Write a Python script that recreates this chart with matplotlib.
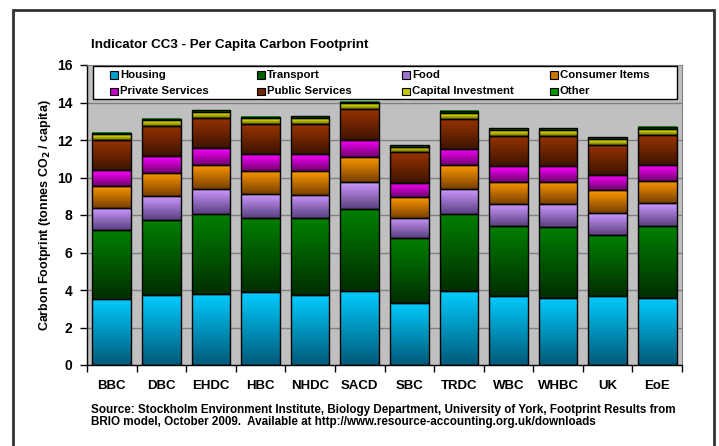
import numpy as np
import matplotlib
matplotlib.use("Agg")
import matplotlib.pyplot as plt
from matplotlib.colors import LinearSegmentedColormap
from matplotlib.patches import Rectangle

plt.rcParams['font.family'] = ['Liberation Sans', 'DejaVu Sans']
plt.rcParams['font.weight'] = 'bold'

categories = ['BBC', 'DBC', 'EHDC', 'HBC', 'NHDC', 'SACD', 'SBC', 'TRDC', 'WBC', 'WHBC', 'UK', 'EoE']
series_names = ['Housing', 'Transport', 'Food', 'Consumer Items',
                'Private Services', 'Public Services', 'Capital Investment', 'Other']
housing = [3.52, 3.73, 3.79, 3.88, 3.72, 3.95, 3.32, 3.93, 3.68, 3.59, 3.70, 3.59]
transport = [3.68, 4.02, 4.26, 3.96, 4.10, 4.39, 3.45, 4.12, 3.75, 3.79, 3.25, 3.82]
food = [1.17, 1.25, 1.32, 1.28, 1.25, 1.40, 1.07, 1.32, 1.17, 1.21, 1.16, 1.21]
consumer = [1.19, 1.24, 1.30, 1.24, 1.28, 1.35, 1.12, 1.28, 1.18, 1.19, 1.21, 1.21]
private = [0.82, 0.89, 0.90, 0.89, 0.90, 0.93, 0.76, 0.87, 0.83, 0.83, 0.81, 0.85]
public = [1.62, 1.62, 1.62, 1.60, 1.60, 1.62, 1.62, 1.62, 1.62, 1.62, 1.62, 1.60]
capital = [0.32, 0.32, 0.32, 0.32, 0.32, 0.32, 0.30, 0.30, 0.30, 0.30, 0.30, 0.29]
other = [0.07, 0.07, 0.09, 0.07, 0.09, 0.07, 0.09, 0.11, 0.09, 0.09, 0.09, 0.14]
series = [housing, transport, food, consumer, private, public, capital, other]

# (top colour, bottom colour) for gradient fills
grad_colors = [('#00CCFF', '#005A7A'), ('#008000', '#002E00'), ('#CC99FF', '#5A4080'),
               ('#FF9900', '#7A4000'), ('#FF00FF', '#700070'), ('#993300', '#3E1400'),
               ('#FFFF00', '#6E6E00'), ('#00CC00', '#004000')]

yticks = [0, 2, 4, 6, 8, 10, 12, 14, 16]

W, H = 719, 446
fig = plt.figure(figsize=(W / 100, H / 100), dpi=100)
fig.patch.set_facecolor('white')
# outer border
fig.add_artist(Rectangle((13 / W, -0.05), (714 - 13) / W, 1.05 - 10 / H,
                         transform=fig.transFigure, fill=False, edgecolor='#333333', lw=2))

ax = fig.add_axes([87 / W, 1 - 365 / H, (682 - 87) / W, 300 / H])
ax.set_facecolor('#C0C0C0')

x = np.arange(len(categories))
width = 0.78
bottom = np.zeros(len(categories))
for vals, (ctop, cbot) in zip(series, grad_colors):
    vals = np.array(vals)
    bars = ax.bar(x, vals, width, bottom=bottom, facecolor='none',
                  edgecolor='black', linewidth=1.0, zorder=3)
    cmap = LinearSegmentedColormap.from_list('g', [cbot, ctop])
    grad = np.linspace(0, 1, 64).reshape(-1, 1)
    for b in bars:
        x0, y0 = b.get_x(), b.get_y()
        ax.imshow(grad, cmap=cmap, extent=(x0, x0 + b.get_width(), y0, y0 + b.get_height()),
                  origin='lower', aspect='auto', zorder=2, interpolation='bilinear')
    bottom = bottom + vals

ax.set_xlim(-0.5, len(categories) - 0.5)
ax.set_ylim(0, 16)
ax.set_yticks(yticks)
ax.set_yticklabels([str(t) for t in yticks], fontsize=10, fontweight='bold')
ax.set_xticks(x)
ax.set_xticklabels(categories, fontsize=9.5, fontweight='bold')
ax.set_xticks(np.arange(len(categories) + 1) - 0.5, minor=True)
ax.tick_params(axis='x', which='major', length=0, pad=10.5)
ax.tick_params(axis='x', which='minor', length=5, width=1, direction='out')
ax.tick_params(axis='y', length=5, width=1, direction='out', pad=5.5)
for t in yticks[1:-1]:
    ax.axhline(t, color='#808080', lw=1, zorder=1)
for s in ['top', 'right']:
    ax.spines[s].set_color('#808080')
for s in ['left', 'bottom']:
    ax.spines[s].set_color('black')
    ax.spines[s].set_linewidth(1)

ax.set_ylabel(r'Carbon Footprint (tonnes CO$_\mathbf{2}$ / capita)', fontsize=9,
              fontweight='bold')
ax.yaxis.label.set_verticalalignment('center')
ax.yaxis.set_label_coords((45 - 87) / 595, 0.5)

# legend
ax.add_patch(Rectangle((6 / 595, (365 - 99) / 300), (677 - 93) / 595, 33 / 300,
                       transform=ax.transAxes, facecolor='white', edgecolor='black',
                       lw=1, zorder=5))
col_px = [110, 257, 402, 550]
row_px = [75, 91.5]
for i, (name, (ctop, cbot)) in enumerate(zip(series_names, grad_colors)):
    r, c = divmod(i, 4)
    px = (col_px[c] - 87) / 595
    py = (365 - row_px[r]) / 300
    cmap = LinearSegmentedColormap.from_list('g', [cbot, ctop])
    ax.add_patch(Rectangle((px, py - 3.5 / 300), 7.5 / 595, 7.5 / 300, transform=ax.transAxes,
                           facecolor=cmap(0.6), edgecolor='black', lw=0.8, zorder=6))
    ax.text(px + 10 / 595, py, name, transform=ax.transAxes, fontsize=8.2,
            fontweight='bold', va='center', ha='left', zorder=7)

fig.text(91 / W, 1 - 48.3 / H, 'Indicator CC3 - Per Capita Carbon Footprint',
         fontsize=9.6, fontweight='bold', va='baseline', ha='left')
fig.text(91 / W, 1 - 412.7 / H,
         'Source: Stockholm Environment Institute, Biology Department, University of York, Footprint Results from',
         fontsize=8.4, fontweight='bold', va='baseline', ha='left')
fig.text(91 / W, 1 - 425.5 / H,
         'BRIO model, October 2009.  Available at http://www.resource-accounting.org.uk/downloads',
         fontsize=8.4, fontweight='bold', va='baseline', ha='left')

fig.savefig('out.png', dpi=100)
